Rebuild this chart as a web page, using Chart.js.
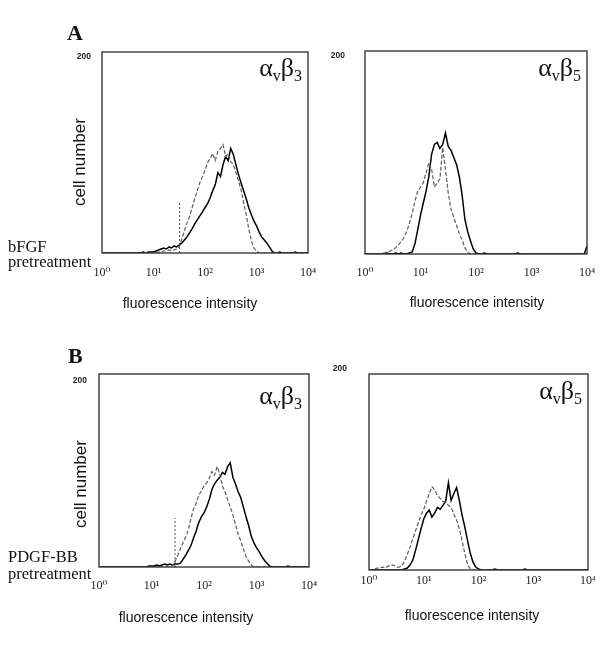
<!DOCTYPE html>
<html>
<head>
<meta charset="utf-8">
<script src="https://cdn.jsdelivr.net/npm/chart.js"></script>
<style>
  html, body { margin: 0; padding: 0; background: #fff; overflow: hidden; }
  #page { position: relative; width: 600px; height: 647px; }
  canvas { position: absolute; }
  .lbl { position: absolute; white-space: nowrap; line-height: 1; color: #111; }
  .serif { font-family: "Liberation Serif", "DejaVu Serif", serif; }
  .sans { font-family: "Liberation Sans", Arial, sans-serif; }
  .letter { font-size: 22px; font-weight: bold; }
  .treat { font-size: 16.5px; }
  .xtitle { font-size: 14px; transform: translateX(-50%); }
  .ytitle { font-size: 17px; transform: translate(-50%, -50%) rotate(-90deg); }
  .integrin { font-size: 26px; transform: translateX(-100%); }
  .integrin span { font-size: 16px; position: relative; top: 5px; }
</style>
</head>
<body>
<div id="page">
  <canvas id="aLeft" width="270" height="280" style="left:50px;top:40px"></canvas>
  <canvas id="aRight" width="275" height="280" style="left:320px;top:40px"></canvas>
  <canvas id="bLeft" width="270" height="280" style="left:50px;top:362px"></canvas>
  <canvas id="bRight" width="275" height="280" style="left:320px;top:362px"></canvas>

  <div class="lbl serif letter" style="left:67px;top:22px">A</div>
  <div class="lbl serif letter" style="left:68px;top:345px">B</div>

  <div class="lbl serif treat" style="left:8px;top:239px">bFGF</div>
  <div class="lbl serif treat" style="left:8px;top:254px">pretreatment</div>
  <div class="lbl serif treat" style="left:8px;top:549px">PDGF-BB</div>
  <div class="lbl serif treat" style="left:8px;top:566px">pretreatment</div>

  <div class="lbl sans ytitle" style="left:79px;top:162px">cell number</div>
  <div class="lbl sans ytitle" style="left:80px;top:484px">cell number</div>

  <div class="lbl sans xtitle" style="left:190px;top:296px">fluorescence intensity</div>
  <div class="lbl sans xtitle" style="left:477px;top:295px">fluorescence intensity</div>
  <div class="lbl sans xtitle" style="left:186px;top:610px">fluorescence intensity</div>
  <div class="lbl sans xtitle" style="left:472px;top:608px">fluorescence intensity</div>

  <div class="lbl serif integrin" style="left:302px;top:55px">α<span>v</span>β<span>3</span></div>
  <div class="lbl serif integrin" style="left:581px;top:55px">α<span>v</span>β<span>5</span></div>
  <div class="lbl serif integrin" style="left:302px;top:383px">α<span>v</span>β<span>3</span></div>
  <div class="lbl serif integrin" style="left:582px;top:378px">α<span>v</span>β<span>5</span></div>
</div>

<script>
// fluorescence channels, 10^0 .. 10^4 in steps of 0.05 decade
const channels = [
  1, 1.12, 1.26, 1.41, 1.58, 1.78, 2.0, 2.24, 2.51, 2.82,
  3.16, 3.55, 3.98, 4.47, 5.01, 5.62, 6.31, 7.08, 7.94, 8.91,
  10, 11.2, 12.6, 14.1, 15.8, 17.8, 20.0, 22.4, 25.1, 28.2,
  31.6, 35.5, 39.8, 44.7, 50.1, 56.2, 63.1, 70.8, 79.4, 89.1,
  100, 112, 126, 141, 158, 178, 200, 224, 251, 282,
  316, 355, 398, 447, 501, 562, 631, 708, 794, 891,
  1000, 1122, 1259, 1413, 1585, 1778, 1995, 2239, 2512, 2818,
  3162, 3548, 3981, 4467, 5012, 5623, 6310, 7079, 7943, 8913,
  10000
];

const xTickValues = [1, 10, 100, 1000, 10000];
const xTickLabels = ["10⁰", "10¹", "10²", "10³", "10⁴"];
const yTickValues = [0, 200];
const yTickLabels = ["", "200"];

// A, bFGF pretreatment, alpha v beta 3
const aLeftSolid = [
  0, 0, 0, 0, 0, 0, 0, 0, 0, 0,
  0, 0, 0, 0, 0, 0, 1, 0, 1, 1,
  1, 2, 3, 4, 5, 4, 6, 5, 7, 6,
  8, 10, 13, 16, 20, 24, 29, 33, 37, 41,
  45, 49, 55, 62, 68, 80, 76, 88, 96, 92,
  104, 98, 88, 78, 70, 62, 54, 45, 38, 32,
  27, 21, 16, 13, 10, 6, 2, 0, 0, 1,
  0, 0, 0, 0, 0, 1, 0, 0, 0, 0,
  0
];
const aLeftDash = [
  0, 0, 0, 0, 0, 0, 0, 0, 0, 0,
  0, 0, 0, 0, 0, 0, 0, 0, 0, 0,
  0, 0, 1, 1, 2, 2, 3, 2, 3, 4,
  6, 14, 22, 30, 36, 45, 54, 62, 70, 76,
  82, 90, 94, 99, 92, 101, 104, 108, 96, 99,
  91, 88, 80, 72, 63, 50, 38, 24, 12, 5,
  2, 0, 0, 0, 0, 0, 0, 0, 0, 0,
  0, 0, 0, 0, 0, 0, 0, 0, 0, 0,
  0
];
const aLeftGate = [32, 51];

// A, bFGF pretreatment, alpha v beta 5
const aRightSolid = [
  0, 0, 0, 0, 0, 0, 0, 0, 1, 0,
  0, 1, 0, 1, 0, 0, 1, 2, 10, 24,
  38, 50, 62, 76, 98, 108, 110, 104, 108, 119,
  106, 102, 95, 88, 76, 58, 34, 22, 13, 5,
  1, 0, 0, 1, 0, 0, 0, 0, 0, 0,
  0, 0, 0, 0, 0, 1, 0, 0, 0, 0,
  0, 0, 0, 0, 0, 0, 0, 0, 0, 0,
  0, 0, 0, 0, 0, 0, 0, 0, 0, 0,
  8
];
const aRightDash = [
  0, 0, 0, 0, 0, 0, 1, 1, 2, 3,
  4, 6, 9, 12, 16, 22, 30, 40, 52, 62,
  66, 70, 80, 90, 84, 66, 70, 74, 105, 83,
  60, 44, 36, 28, 20, 14, 6, 2, 0, 0,
  0, 0, 0, 0, 0, 0, 0, 0, 0, 0,
  0, 0, 0, 0, 0, 0, 0, 0, 0, 0,
  0, 0, 0, 0, 0, 0, 0, 0, 0, 0,
  0, 0, 0, 0, 0, 0, 0, 0, 0, 0,
  0
];

// B, PDGF-BB pretreatment, alpha v beta 3
const bLeftSolid = [
  0, 0, 0, 0, 0, 0, 0, 0, 0, 0,
  0, 0, 0, 0, 0, 0, 0, 0, 0, 1,
  1, 1, 2, 1, 2, 3, 2, 3, 2, 3,
  3, 4, 8, 12, 17, 22, 30, 37, 46, 52,
  56, 62, 70, 80, 86, 90, 93, 98, 96, 104,
  108, 93, 86, 78, 72, 62, 52, 43, 32, 25,
  20, 16, 11, 7, 4, 1, 0, 0, 0, 0,
  0, 0, 1, 0, 0, 0, 0, 0, 0, 0,
  0
];
const bLeftDash = [
  0, 0, 0, 0, 0, 0, 0, 0, 0, 0,
  0, 0, 0, 0, 0, 0, 0, 0, 0, 0,
  0, 0, 0, 0, 0, 0, 0, 0, 2, 6,
  12, 19, 25, 31, 38, 50, 60, 66, 74, 79,
  84, 87, 92, 99, 95, 104, 96, 84, 78, 70,
  62, 54, 44, 34, 27, 19, 11, 6, 2, 0,
  0, 0, 0, 0, 0, 0, 0, 0, 0, 0,
  0, 0, 0, 0, 0, 0, 0, 0, 0, 0,
  0
];
const bLeftGate = [28, 51];

// B, PDGF-BB pretreatment, alpha v beta 5
const bRightSolid = [
  0, 0, 0, 0, 0, 0, 0, 0, 0, 0,
  0, 0, 0, 1, 2, 5, 10, 20, 31, 42,
  52, 58, 61, 54, 58, 64, 62, 66, 70, 89,
  71, 78, 84, 71, 56, 44, 30, 17, 8, 3,
  1, 0, 0, 0, 0, 0, 1, 0, 0, 0,
  0, 0, 0, 0, 0, 0, 0, 1, 0, 0,
  0, 0, 0, 0, 0, 0, 0, 0, 0, 0,
  0, 0, 0, 0, 0, 0, 0, 0, 0, 0,
  0
];
const bRightDash = [
  0, 0, 1, 2, 2, 3, 2, 4, 5, 5,
  3, 3, 4, 9, 16, 23, 32, 40, 48, 56,
  62, 70, 78, 85, 82, 76, 73, 70, 69, 66,
  64, 57, 51, 42, 30, 17, 6, 1, 0, 0,
  0, 0, 0, 0, 0, 0, 0, 0, 0, 0,
  0, 0, 0, 0, 0, 0, 0, 0, 0, 0,
  0, 0, 0, 0, 0, 0, 0, 0, 0, 0,
  0, 0, 0, 0, 0, 0, 0, 0, 0, 0,
  0
];

const toPoints = (vals) => channels.map((c, i) => ({ x: c, y: vals[i] }));

// box round the plot area
const framePlugin = {
  id: "frame",
  afterDatasetsDraw(chart) {
    const { ctx, chartArea: a } = chart;
    ctx.save();
    ctx.strokeStyle = "#2a2a2a";
    ctx.lineWidth = 1.3;
    ctx.strokeRect(a.left, a.top, a.right - a.left, a.bottom - a.top);
    ctx.restore();
  },
};

function drawPanel(id, solid, dash, gate, geo) {
  const datasets = [
    { data: toPoints(dash), borderColor: "#5e5e5e", borderWidth: 1.2, borderDash: [4, 2] },
    { data: toPoints(solid), borderColor: "#000", borderWidth: 1.5 },
  ];
  if (gate) {
    datasets.push({
      data: [{ x: gate[0], y: 0 }, { x: gate[0], y: gate[1] }],
      borderColor: "#555",
      borderWidth: 1,
      borderDash: [2, 2],
    });
  }

  new Chart(document.getElementById(id), {
    type: "line",
    data: { datasets: datasets },
    options: {
      responsive: false,
      animation: false,
      events: [],
      layout: { padding: { top: geo.top, right: geo.right, left: 0, bottom: 0 } },
      elements: { point: { radius: 0 }, line: { tension: 0 } },
      plugins: { legend: { display: false }, tooltip: { enabled: false } },
      scales: {
        x: {
          type: "logarithmic",
          min: 1,
          max: 10000,
          grid: { display: false, drawTicks: false },
          border: { display: false },
          afterBuildTicks: (s) => { s.ticks = xTickValues.map((v) => ({ value: v })); },
          afterFit: (s) => { s.height = geo.xH; s.paddingLeft = 0; s.paddingRight = 0; },
          ticks: {
            autoSkip: false,
            maxRotation: 0,
            padding: geo.xPad,
            color: "#222",
            font: { family: "'Liberation Serif', 'DejaVu Serif', serif", size: 12 },
            callback: (v) => xTickLabels[xTickValues.indexOf(v)] ?? "",
          },
        },
        y: {
          min: 0,
          max: 200,
          grid: { display: false, drawTicks: false },
          border: { display: false },
          afterBuildTicks: (s) => { s.ticks = yTickValues.map((v) => ({ value: v })); },
          afterFit: (s) => { s.width = geo.yW; s.paddingTop = 0; s.paddingBottom = 0; },
          ticks: {
            padding: geo.yPad,
            labelOffset: geo.yOff,
            color: "#222",
            font: { family: "'Liberation Sans', Arial, sans-serif", size: 8.5, weight: "bold" },
            callback: (v) => yTickLabels[yTickValues.indexOf(v)] ?? "",
          },
        },
      },
    },
    plugins: [framePlugin],
  });
}

drawPanel("aLeft", aLeftSolid, aLeftDash, aLeftGate,
  { top: 12, right: 12, yW: 52, xH: 67, xPad: 13, yPad: 11, yOff: 5 });
drawPanel("aRight", aRightSolid, aRightDash, null,
  { top: 11, right: 8, yW: 45, xH: 66, xPad: 12, yPad: 20, yOff: 5 });
drawPanel("bLeft", bLeftSolid, bLeftDash, bLeftGate,
  { top: 12, right: 11, yW: 49, xH: 75, xPad: 12, yPad: 12, yOff: 7 });
drawPanel("bRight", bRightSolid, bRightDash, null,
  { top: 12, right: 7, yW: 49, xH: 72, xPad: 4, yPad: 22, yOff: -5 });
</script>
</body>
</html>
